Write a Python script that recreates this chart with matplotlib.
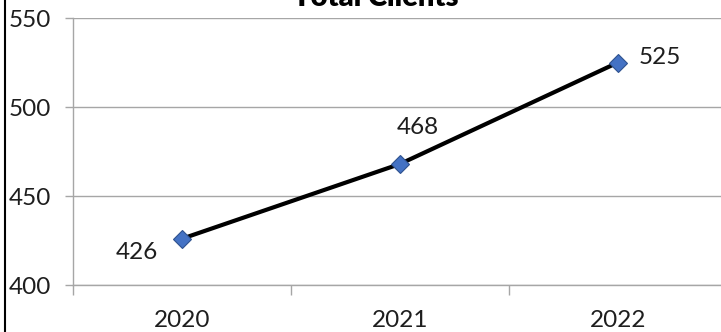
import matplotlib
matplotlib.use("Agg")
import matplotlib.pyplot as plt
from matplotlib.ticker import FixedLocator, NullFormatter
from matplotlib.lines import Line2D

# chart data
years = ["2020", "2021", "2022"]
clients = [426, 468, 525]
label_offsets = [(-45, -14), (18, 36), (42, 5)]  # pixel offsets of the value labels

W, H = 721, 332
DPI = 100
plt.rcParams['font.family'] = ['Lato', 'DejaVu Sans']

fig = plt.figure(figsize=(W / DPI, H / DPI), dpi=DPI)
ax = fig.add_axes([73 / W, 1 - 285 / H, (727 - 73) / W, (285 - 18) / H])

grid_col = "#a6a6a6"
txt_col = "#1e1e1e"
fs = 17.5
x = list(range(len(years)))
ax.plot(x, clients, color="black", lw=3, zorder=3, clip_on=False,
        marker="D", markersize=9.5, markerfacecolor="#4472c4",
        markeredgecolor="#2f528f", markeredgewidth=0.8)

for xi, v, (dx, dy) in zip(x, clients, label_offsets):
    ax.annotate(str(v), (xi, v), xytext=(dx * 0.72, dy * 0.72),
                textcoords="offset points", ha="center", va="center",
                fontsize=fs, color=txt_col)

ax.set_xlim(-0.5, 2.5)
ax.set_ylim(400, 550)
ax.set_yticks([400, 450, 500, 550])
ax.yaxis.grid(True, color=grid_col, lw=1)
ax.set_axisbelow(True)

ax.set_xticks(x)
ax.set_xticklabels(years)
ax.xaxis.set_minor_locator(FixedLocator([-0.5, 0.5, 1.5, 2.5]))
ax.xaxis.set_minor_formatter(NullFormatter())
ax.tick_params(axis="x", which="major", length=0, pad=18, labelsize=fs, labelcolor=txt_col)
ax.tick_params(axis="x", which="minor", length=7, width=1, color=grid_col)
ax.tick_params(axis="y", length=6, width=1, color=grid_col, pad=10,
               labelsize=fs, labelcolor=txt_col)

for s in ["top", "right"]:
    ax.spines[s].set_visible(False)
for s in ["left", "bottom"]:
    ax.spines[s].set_color(grid_col)
    ax.spines[s].set_linewidth(1)

fig.text(376 / W, 1 - 6 / H, "Total Clients", ha="center", va="baseline",
         fontsize=21, fontweight="heavy", color="black")

# outer chart border on the left
fig.add_artist(Line2D([4.5 / W, 4.5 / W], [0, 1], color="black", lw=1.5,
                      transform=fig.transFigure))

fig.savefig("out.png", dpi=DPI)
